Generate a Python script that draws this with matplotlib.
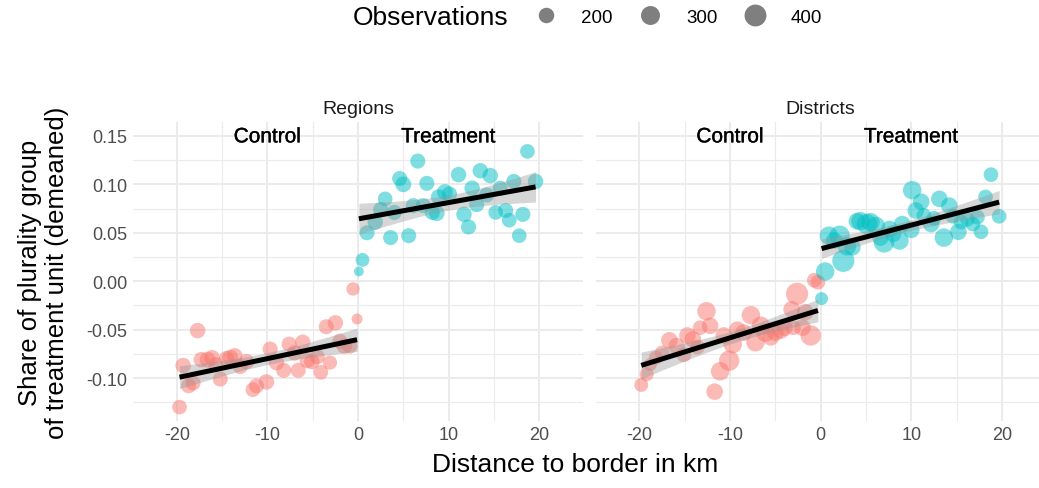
import numpy as np
import matplotlib
matplotlib.use("Agg")
import matplotlib.pyplot as plt
import matplotlib.patheffects as pe
from matplotlib.lines import Line2D

plt.rcParams["font.family"] = ["Liberation Sans", "DejaVu Sans"]
plt.rcParams["axes.unicode_minus"] = False

# --- data -----------------------------------------------------------------
# Regions, control side
reg_ctrl_x = [-19.7, -17.7, -19.3, -18.7, -18.2, -17.3, -16.6, -16.1, -15.7, -15.2,
              -14.5, -14.1, -13.6, -13.0, -12.3, -11.6, -11.2, -10.1, -9.7, -9.0,
              -8.2, -7.6, -7.0, -6.6, -6.1, -5.6, -5.1, -4.5, -4.1, -3.5,
              -3.1, -2.5, -2.0, -1.5, -0.9, -0.55, -0.1]
reg_ctrl_y = [-0.130, -0.051, -0.087, -0.108, -0.105, -0.081, -0.081, -0.079, -0.086, -0.101,
              -0.080, -0.079, -0.077, -0.088, -0.083, -0.112, -0.108, -0.104, -0.070, -0.084,
              -0.092, -0.065, -0.074, -0.092, -0.063, -0.082, -0.083, -0.078, -0.094, -0.047,
              -0.084, -0.043, -0.062, -0.067, -0.067, -0.008, -0.039]
reg_ctrl_n = [180, 200, 200, 190, 190, 200, 210, 200, 190, 190,
              200, 210, 200, 190, 200, 180, 190, 200, 190, 200,
              190, 190, 200, 190, 200, 190, 200, 190, 180, 190,
              170, 200, 190, 200, 190, 150, 100]

# Regions, treatment side
reg_treat_x = [0.1, 0.5, 1.0, 1.9, 2.5, 3.0, 3.6, 4.0, 4.6, 5.0,
               5.6, 6.1, 6.6, 7.2, 7.6, 8.2, 8.7, 8.9, 9.6, 10.1,
               11.1, 11.7, 12.2, 12.6, 13.1, 13.5, 14.2, 14.6, 15.2, 15.7,
               16.3, 16.7, 17.2, 17.8, 18.2, 18.7, 19.6]
reg_treat_y = [0.010, 0.022, 0.050, 0.061, 0.074, 0.085, 0.045, 0.071, 0.106, 0.100,
               0.047, 0.078, 0.124, 0.078, 0.101, 0.071, 0.070, 0.087, 0.092, 0.090,
               0.110, 0.069, 0.056, 0.096, 0.079, 0.114, 0.089, 0.109, 0.071, 0.096,
               0.073, 0.063, 0.103, 0.047, 0.069, 0.134, 0.103]
reg_treat_n = [80, 160, 190, 200, 190, 180, 190, 190, 190, 210,
               190, 190, 190, 190, 190, 190, 200, 200, 210, 190,
               200, 200, 190, 200, 190, 200, 190, 200, 180, 190,
               190, 180, 190, 180, 190, 180, 200]

# Districts, control side
dis_ctrl_x = [-19.8, -19.2, -18.8, -18.2, -17.5, -16.7, -15.9, -15.1, -14.7, -14.1,
              -13.6, -13.3, -12.6, -12.2, -11.7, -11.1, -10.7, -10.1, -9.7, -9.2,
              -8.5, -7.7, -7.2, -6.6, -6.1, -5.5, -5.0, -4.4, -4.0, -3.2,
              -3.0, -2.6, -2.0, -1.7, -1.1, -0.7, -0.3]
dis_ctrl_y = [-0.107, -0.096, -0.086, -0.079, -0.074, -0.061, -0.067, -0.076, -0.056, -0.060,
              -0.068, -0.048, -0.031, -0.046, -0.114, -0.093, -0.056, -0.082, -0.065, -0.050,
              -0.053, -0.035, -0.063, -0.046, -0.053, -0.058, -0.053, -0.051, -0.048, -0.029,
              -0.048, -0.013, -0.048, -0.032, -0.056, 0.001, -0.001]
dis_ctrl_n = [165, 165, 140, 165, 180, 230, 230, 180, 230, 230,
              180, 180, 285, 230, 230, 285, 230, 345, 285, 230,
              230, 285, 285, 285, 285, 230, 230, 230, 230, 230,
              180, 410, 230, 230, 345, 180, 180]

# Districts, treatment side
dis_treat_x = [0.1, 0.5, 0.9, 1.5, 2.1, 2.5, 2.9, 3.5, 4.0, 4.4,
               5.1, 5.5, 6.1, 6.6, 7.0, 7.6, 8.0, 8.7, 9.0, 10.0,
               10.1, 10.5, 11.1, 11.4, 12.2, 12.5, 13.1, 13.6, 14.2, 14.6,
               15.2, 15.5, 16.2, 16.8, 17.3, 17.7, 18.2, 18.8, 19.7]
dis_treat_y = [-0.018, 0.010, 0.047, 0.042, 0.047, 0.021, 0.036, 0.035, 0.062, 0.062,
               0.059, 0.061, 0.057, 0.045, 0.040, 0.054, 0.049, 0.042, 0.059, 0.053,
               0.094, 0.073, 0.082, 0.068, 0.059, 0.065, 0.085, 0.045, 0.078, 0.067,
               0.051, 0.061, 0.064, 0.059, 0.066, 0.051, 0.087, 0.110, 0.067]
dis_treat_n = [140, 285, 285, 230, 345, 410, 285, 230, 230, 285,
               345, 285, 285, 230, 345, 230, 230, 285, 230, 230,
               285, 230, 230, 180, 230, 180, 230, 285, 230, 180,
               230, 180, 180, 180, 180, 180, 180, 180, 180]

panel_titles = ["Regions", "Districts"]
side_labels = ["Control", "Treatment"]
legend_obs = [200, 300, 400]

CTRL_COL = "#F8766D"
TREAT_COL = "#00BFC4"


def size(n):
    return np.asarray(n) * 0.62


def fit_band(x, y, w):
    """weighted lm fit + 95% band, like geom_smooth(method='lm')"""
    x, y, w = map(np.asarray, (x, y, w))
    X = np.column_stack([np.ones_like(x), x])
    W = np.diag(w)
    XtWX = X.T @ W @ X
    beta = np.linalg.solve(XtWX, X.T @ W @ y)
    resid = y - X @ beta
    s2 = (w * resid ** 2).sum() / (len(x) - 2)
    cov = s2 * np.linalg.inv(XtWX)
    xs = np.linspace(x.min(), x.max(), 80)
    Xs = np.column_stack([np.ones_like(xs), xs])
    fit = Xs @ beta
    se = np.sqrt(np.einsum("ij,jk,ik->i", Xs, cov, Xs))
    return xs, fit, fit - 2.03 * se, fit + 2.03 * se


def panel(ax, ctrl, treat, title, first):
    ax.set_xlim(-24.8, 24.8)
    ax.set_ylim(-0.144, 0.164)
    ax.set_xticks([-20, -10, 0, 10, 20])
    ax.set_xticks([-15, -5, 5, 15], minor=True)
    ax.set_yticks([-0.10, -0.05, 0.00, 0.05, 0.10, 0.15])
    ax.set_yticks([-0.125, -0.075, -0.025, 0.025, 0.075, 0.125], minor=True)
    ax.grid(True, which="major", color="#EBEBEB", lw=1.4, zorder=0)
    ax.grid(True, which="minor", color="#EBEBEB", lw=0.8, zorder=0)
    for s in ax.spines.values():
        s.set_visible(False)
    ax.tick_params(which="both", length=0, labelsize=13, labelcolor="#4D4D4D", pad=4)
    if first:
        ax.set_yticklabels(["-0.10", "-0.05", "0.00", "0.05", "0.10", "0.15"])
    else:
        ax.tick_params(axis="y", labelleft=False)

    ax.axhline(0, color="#A6A6A6", lw=1.4, ls=(0, (4, 4)), zorder=1)
    ax.axvline(0, color="#8C8C8C", lw=1.2, ls=(0, (1, 3)), zorder=1)

    for (x, y, n), col in zip((ctrl, treat), (CTRL_COL, TREAT_COL)):
        ax.scatter(x, y, s=size(n), color=col, alpha=0.5, lw=0, zorder=2)
    for (x, y, n) in (ctrl, treat):
        xs, fit, lo, hi = fit_band(x, y, n)
        ax.fill_between(xs, lo, hi, color="#999999", alpha=0.4, lw=0, zorder=3)
        ax.plot(xs, fit, color="black", lw=3.6, solid_capstyle="butt", zorder=4)

    for xpos, lab in zip((-10, 10), side_labels):
        ax.text(xpos, 0.149, lab, ha="center", va="center", fontsize=15, color="black",
                zorder=5, path_effects=[pe.withStroke(linewidth=0.25, foreground="black")])
    ax.set_title(title, fontsize=14, color="#1A1A1A", pad=7)


fig = plt.figure(figsize=(10.39, 4.89), dpi=100)
ax1 = fig.add_axes([0.1283, 0.1376, 0.4325, 0.6102])
ax2 = fig.add_axes([0.5736, 0.1376, 0.4325, 0.6102])

panel(ax1, (reg_ctrl_x, reg_ctrl_y, reg_ctrl_n), (reg_treat_x, reg_treat_y, reg_treat_n),
      panel_titles[0], True)
panel(ax2, (dis_ctrl_x, dis_ctrl_y, dis_ctrl_n), (dis_treat_x, dis_treat_y, dis_treat_n),
      panel_titles[1], False)

ax1.set_ylabel("Share of plurality group\nof treatment unit (demeaned)", fontsize=18.5,
               color="black", labelpad=13, linespacing=1.15)
fig.text(0.5536, 0.025, "Distance to border in km", ha="center", va="bottom",
         fontsize=19, color="black")

# size legend on top
handles = [Line2D([], [], ls="", marker="o", markersize=np.sqrt(size(n)),
                  markerfacecolor="#7F7F7F", markeredgewidth=0) for n in legend_obs]
fig.text(353 / 1039, 1 - 18 / 489, "Observations", ha="left", va="center", fontsize=19)
fig.legend(handles, [str(n) for n in legend_obs], ncol=3, loc="center left",
           bbox_to_anchor=(510 / 1039, 1 - 18 / 489), frameon=False, fontsize=13.5,
           handletextpad=0.9, columnspacing=1.0, handlelength=2.0, borderpad=0.4)

fig.savefig("out.png", dpi=100)
